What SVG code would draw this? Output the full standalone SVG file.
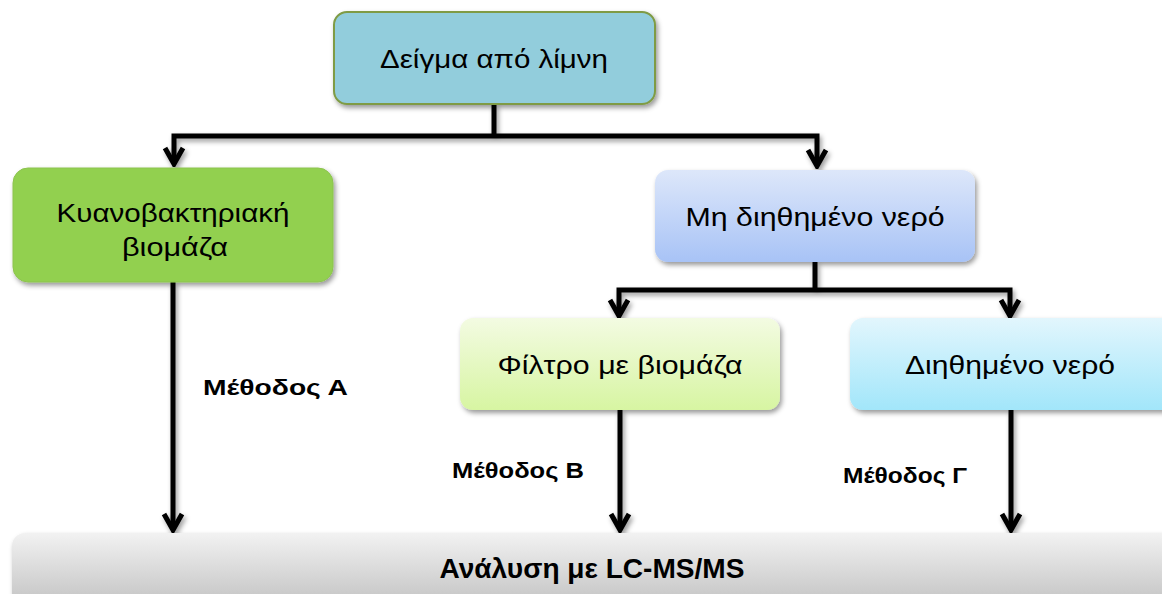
<svg xmlns="http://www.w3.org/2000/svg" width="1162" height="594" viewBox="0 0 1162 594">
<defs>
<filter id="sh" x="-10%" y="-10%" width="120%" height="130%">
<feDropShadow dx="2" dy="3" stdDeviation="2.5" flood-color="#000" flood-opacity="0.4"/>
</filter>
<linearGradient id="gBlue" x1="0" y1="0" x2="0" y2="1"><stop offset="0" stop-color="#DDE7FA"/><stop offset="1" stop-color="#A8C3F6"/></linearGradient>
<linearGradient id="gLime" x1="0" y1="0" x2="0" y2="1"><stop offset="0" stop-color="#F3FBE2"/><stop offset="1" stop-color="#D7F5A2"/></linearGradient>
<linearGradient id="gCyan" x1="0" y1="0" x2="0" y2="1"><stop offset="0" stop-color="#E2F6FD"/><stop offset="1" stop-color="#A2E6FA"/></linearGradient>
<linearGradient id="gGray" x1="0" y1="0" x2="0" y2="1"><stop offset="0" stop-color="#F2F2F2"/><stop offset="1" stop-color="#BEBEBE"/></linearGradient>
<marker id="ah" viewBox="0 0 22 24" refX="19" refY="12" markerWidth="22" markerHeight="24" markerUnits="userSpaceOnUse" orient="auto">
<path d="M3,3 L19,12 L3,21" fill="none" stroke="#000" stroke-width="5"/>
</marker>
</defs>
<style>
.t{font-family:"Liberation Sans","Noto Sans",sans-serif;font-size:25px;fill:#000;text-anchor:middle}
.b{font-family:"Liberation Sans","Noto Sans",sans-serif;font-size:22px;font-weight:bold;fill:#000}
.c{fill:none;stroke:#000;stroke-width:5}
.ca{fill:none;stroke:#000;stroke-width:5;marker-end:url(#ah)}
</style>
<rect width="1162" height="594" fill="#fff"/>
<g id="connectors" filter="url(#sh)">
<path class="c" d="M494,104 V136"/>
<path class="ca" d="M494,136 H174 V164"/>
<path class="ca" d="M494,136 H817 V166"/>
<path class="c" d="M815,262 V290"/>
<path class="ca" d="M815,290 H619 V316"/>
<path class="ca" d="M815,290 H1010 V316"/>
<path class="ca" d="M173,282 V530"/>
<path class="ca" d="M620,410 V530"/>
<path class="ca" d="M1011,410 V530"/>
</g>
<g id="n_deigma">
<rect x="334" y="12" width="321" height="92" rx="13" fill="#92CDDC" stroke="#7F9B45" stroke-width="2" filter="url(#sh)"/>
<text class="t" x="494" y="68" textLength="228" lengthAdjust="spacingAndGlyphs">Δείγμα από λίμνη</text>
</g>
<g id="n_kyano">
<rect x="13" y="168" width="320" height="114" rx="15" fill="#92D050" stroke="#8CC34E" stroke-width="1" filter="url(#sh)"/>
<text class="t" x="173" y="222" textLength="233" lengthAdjust="spacingAndGlyphs">Κυανοβακτηριακή</text>
<text class="t" x="175" y="256" textLength="106" lengthAdjust="spacingAndGlyphs">βιομάζα</text>
</g>
<g id="n_mh">
<rect x="655" y="170" width="320" height="92" rx="13" fill="url(#gBlue)" filter="url(#sh)"/>
<text class="t" x="815" y="226" textLength="259" lengthAdjust="spacingAndGlyphs">Μη διηθημένο νερό</text>
</g>
<g id="n_filtro">
<rect x="460" y="318" width="320" height="92" rx="13" fill="url(#gLime)" filter="url(#sh)"/>
<text class="t" x="620" y="374" textLength="245" lengthAdjust="spacingAndGlyphs">Φίλτρο με βιομάζα</text>
</g>
<g id="n_dieth">
<rect x="850" y="318" width="330" height="92" rx="13" fill="url(#gCyan)" filter="url(#sh)"/>
<text class="t" x="1010" y="374" textLength="210" lengthAdjust="spacingAndGlyphs">Διηθημένο νερό</text>
</g>
<g id="n_analysi">
<rect x="12" y="533" width="1170" height="80" rx="13" fill="url(#gGray)" filter="url(#sh)"/>
<text class="b" x="592" y="578" text-anchor="middle" style="font-size:27px" textLength="305" lengthAdjust="spacingAndGlyphs">Ανάλυση με LC-MS/MS</text>
</g>
<g id="labels">
<text class="b" x="203" y="395" textLength="145" lengthAdjust="spacingAndGlyphs">Μέθοδος Α</text>
<text class="b" x="452" y="478" textLength="132" lengthAdjust="spacingAndGlyphs">Μέθοδος Β</text>
<text class="b" x="843" y="483" textLength="124" lengthAdjust="spacingAndGlyphs">Μέθοδος Γ</text>
</g>
</svg>
